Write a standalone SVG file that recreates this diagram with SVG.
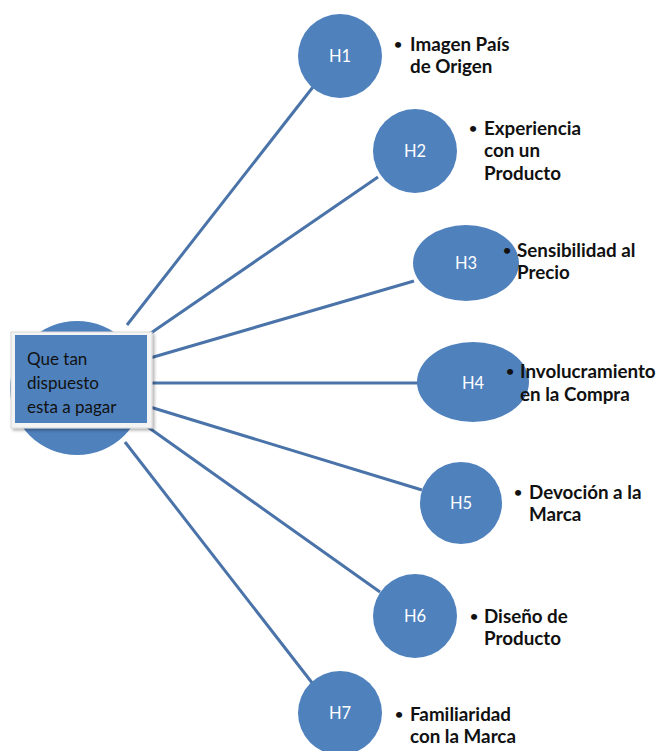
<svg xmlns="http://www.w3.org/2000/svg" width="666" height="751" viewBox="0 0 666 751">
<defs>
<style>
.n{fill:#4f81bd;}
.c{stroke:#4a73a9;stroke-width:3;fill:none;}
.h{font-family:Lato,"Liberation Sans",sans-serif;font-size:16.5px;fill:#ffffff;text-anchor:middle;}
.l{font-family:Lato,"Liberation Sans",sans-serif;font-size:18.8px;font-weight:bold;fill:#111111;}
.b{font-family:Lato,"Liberation Sans",sans-serif;font-size:14px;font-weight:bold;fill:#111111;}
.q{font-family:Lato,"Liberation Sans",sans-serif;font-size:17px;fill:#111111;}
</style>
<filter id="sh" x="-10%" y="-10%" width="130%" height="130%"><feDropShadow dx="2" dy="2" stdDeviation="1.5" flood-color="#000" flood-opacity="0.3"/></filter>
</defs>
<rect width="666" height="751" fill="#ffffff"/>
<g id="connectors">
<line class="c" x1="127" y1="325" x2="313" y2="87"/>
<line class="c" x1="148" y1="335" x2="378" y2="177"/>
<line class="c" x1="150" y1="358" x2="414" y2="281"/>
<line class="c" x1="152" y1="383" x2="418" y2="383"/>
<line class="c" x1="150" y1="407" x2="422" y2="490"/>
<line class="c" x1="145" y1="425" x2="380" y2="592"/>
<line class="c" x1="125" y1="442" x2="313" y2="684"/>
</g>
<g id="center">
<circle class="n" cx="77" cy="388" r="67"/>
<rect x="11" y="332" width="141" height="96" fill="#f4f4f4" stroke="#d8d8d8" stroke-width="1" filter="url(#sh)"/>
<rect x="15" y="335" width="132" height="88" fill="#4f81bd"/>
<text class="q" x="27" y="365">Que tan</text>
<text class="q" x="27" y="389">dispuesto</text>
<text class="q" x="27" y="413">esta a pagar</text>
</g>
<g id="h1">
<circle class="n" cx="340" cy="56" r="42"/>
<text class="h" x="340" y="62">H1</text>
<text class="b" x="394" y="49">•</text>
<text class="l" x="410" y="51">Imagen País</text>
<text class="l" x="410" y="73">de Origen</text>
</g>
<g id="h2">
<circle class="n" cx="415" cy="151" r="42"/>
<text class="h" x="415" y="157">H2</text>
<text class="b" x="469" y="133">•</text>
<text class="l" x="484" y="135">Experiencia</text>
<text class="l" x="484" y="157">con un</text>
<text class="l" x="484" y="180">Producto</text>
</g>
<g id="h3">
<ellipse class="n" cx="466" cy="263" rx="53" ry="38"/>
<text class="h" x="466" y="269">H3</text>
<text class="b" x="503" y="255">•</text>
<text class="l" x="517" y="257">Sensibilidad al</text>
<text class="l" x="517" y="279">Precio</text>
</g>
<g id="h4">
<ellipse class="n" cx="473" cy="382" rx="56" ry="40"/>
<text class="h" x="473" y="389">H4</text>
<text class="b" x="506" y="376">•</text>
<text class="l" x="520" y="378">Involucramiento</text>
<text class="l" x="520" y="401">en la Compra</text>
</g>
<g id="h5">
<circle class="n" cx="461" cy="503" r="41"/>
<text class="h" x="461" y="509">H5</text>
<text class="b" x="514" y="497">•</text>
<text class="l" x="529" y="499">Devoción a la</text>
<text class="l" x="529" y="521">Marca</text>
</g>
<g id="h6">
<circle class="n" cx="415" cy="616" r="42"/>
<text class="h" x="415" y="622">H6</text>
<text class="b" x="470" y="621">•</text>
<text class="l" x="484" y="623">Diseño de</text>
<text class="l" x="484" y="645">Producto</text>
</g>
<g id="h7">
<circle class="n" cx="340" cy="713" r="42"/>
<text class="h" x="340" y="719">H7</text>
<text class="b" x="395" y="719">•</text>
<text class="l" x="410" y="721">Familiaridad</text>
<text class="l" x="410" y="743">con la Marca</text>
</g>
</svg>
